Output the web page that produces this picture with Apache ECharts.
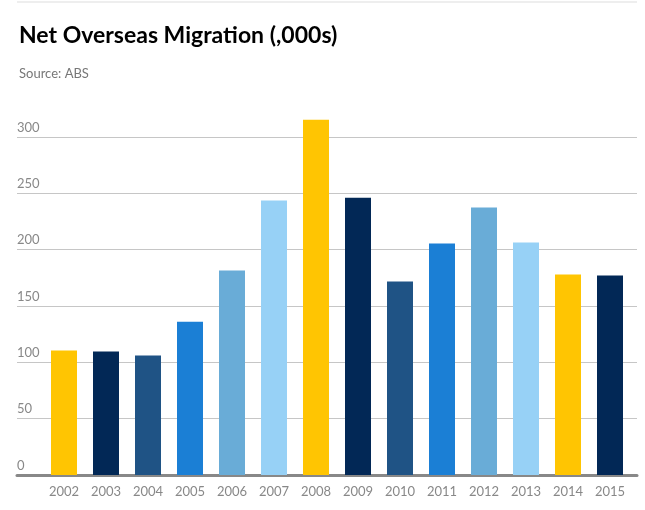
<!DOCTYPE html>
<html>
<head>
<meta charset="utf-8">
<script src="https://cdn.jsdelivr.net/npm/echarts@6/dist/echarts.min.js"></script>
<style>
  html, body { margin: 0; padding: 0; background: #fff; }
  #chart { width: 645px; height: 510px; }
</style>
</head>
<body>
<div id="chart"></div>
<script>
var years = ['2002', '2003', '2004', '2005', '2006', '2007', '2008',
             '2009', '2010', '2011', '2012', '2013', '2014', '2015'];
var migration = [110.5, 109.6, 106, 136, 181.5, 243.6, 315.4,
                 246, 171.7, 205.4, 237.4, 206.3, 177.9, 177];
var yTicks = [0, 50, 100, 150, 200, 250, 300];
var palette = ['#FFC502', '#022856', '#1F5385', '#1B7FD5', '#69ACD7', '#97D1F6'];

var font = 'Lato, "Open Sans", sans-serif';
var chart = echarts.init(document.getElementById('chart'));

chart.setOption({
    animation: false,
    title: {
        text: 'Net Overseas Migration (,000s)',
        subtext: 'Source: ABS',
        left: 14,
        top: 19,
        itemGap: 20,
        textStyle: { fontFamily: font, fontSize: 23, fontWeight: 'bold', color: '#000' },
        subtextStyle: { fontFamily: font, fontSize: 13, color: '#777' }
    },
    graphic: [{
        type: 'line',
        shape: { x1: 17, y1: 2, x2: 637, y2: 2 },
        style: { stroke: '#dddddd', lineWidth: 1 }
    }],
    grid: [
        // wide grid: gridlines, y labels, base line
        { left: 17, right: 8, top: 137, bottom: 35 },
        // bar grid
        { left: 43, right: 14, top: 137, bottom: 35 }
    ],
    xAxis: [{
        gridIndex: 0,
        type: 'category',
        data: years,
        axisLine: { show: true, lineStyle: { color: '#888', width: 3 } },
        axisTick: { show: false },
        axisLabel: { show: false }
    }, {
        gridIndex: 1,
        type: 'category',
        data: years,
        axisLine: { show: false },
        axisTick: { show: false },
        axisLabel: { fontFamily: font, fontSize: 13, color: '#888', margin: 10 }
    }],
    yAxis: [{
        gridIndex: 0,
        type: 'value',
        min: yTicks[0],
        max: yTicks[yTicks.length - 1],
        interval: 50,
        axisLine: { show: false },
        axisTick: { show: false },
        axisLabel: {
            inside: true,
            margin: 0,
            verticalAlign: 'bottom',
            padding: [0, 0, 3, 0],
            fontFamily: font,
            fontSize: 13,
            color: '#888'
        },
        splitLine: { lineStyle: { color: '#c6c6c6', width: 1 } }
    }, {
        gridIndex: 1,
        type: 'value',
        min: yTicks[0],
        max: yTicks[yTicks.length - 1],
        interval: 50,
        show: false
    }],
    series: [{
        type: 'bar',
        xAxisIndex: 1,
        yAxisIndex: 1,
        data: migration,
        barWidth: 26,
        clip: false,
        itemStyle: {
            color: function (p) { return palette[p.dataIndex % palette.length]; }
        }
    }]
});
</script>
</body>
</html>
